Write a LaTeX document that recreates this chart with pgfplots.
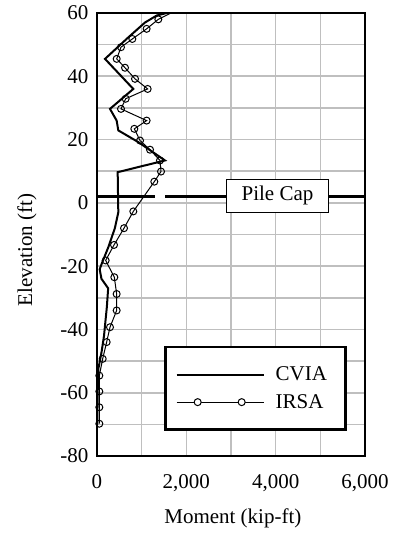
\documentclass[border=0pt]{standalone}
\usepackage{fontspec}
\setmainfont{Liberation Serif}
\usepackage{pgfplots}
\pgfplotsset{compat=1.18}

\newcommand{\fs}{\fontsize{21}{25}\selectfont}

\begin{document}
\begin{tikzpicture}
\useasboundingbox (-97pt,-77pt) rectangle (298pt,456pt);
\begin{axis}[
    scale only axis,
    width=268pt, height=443pt,
    xmin=0, xmax=6000, ymin=-80, ymax=60,
    xtick={0,2000,4000,6000}, minor xtick={1000,3000,5000},
    ytick={-80,-60,...,60}, minor ytick={-70,-50,...,50},
    grid=both,
    major grid style={draw=black!25, line width=1.6pt},
    minor grid style={draw=black!25, line width=1.6pt},
    major tick length=0pt, minor tick length=0pt,
    axis line style={line width=2.8pt},
    scaled x ticks=false,
    /pgf/number format/1000 sep={,},
    /pgf/number format/assume math mode=true,
    tick label style={font=\fs},
    xticklabel style={yshift=-15pt},
    yticklabel style={xshift=-5pt},
    label style={font=\fs},
    xlabel={Moment (kip-ft)},
    ylabel={Elevation (ft)},
    xlabel style={at={(axis description cs:0.507,-0.14)}, anchor=center},
    ylabel style={at={(axis description cs:-0.261,0.465)}, anchor=center},
    legend cell align=left,
    legend style={at={(0.933,0.056)}, anchor=south east, draw=black,
        line width=2.7pt, inner xsep=10pt, inner ysep=17pt, font=\fs,
        column sep=11pt, row sep=6pt,
        nodes={inner xsep=0pt, inner ysep=3pt}},
]

% pile cap level
\addplot[black, line width=2.2pt, forget plot] coordinates {(0,2) (1300,2)};
\addplot[black, line width=2.2pt, forget plot] coordinates {(1523,2) (6000,2)};

\addplot[black, line width=2pt,
    legend image code/.code={\draw[line width=2pt] (0pt,0pt) -- (87pt,0pt);}]
coordinates {
(1560,60) (1336,59.2) (1075,57) (701,52.3) (179,45.5) (813,36) (291,29.7)
(440,26) (477,22.9) (925,19.2) (1522,13.4) (463,9.7) (477,-3) (400,-8)
(254,-14) (104,-19.3) (60,-21) (100,-24) (250,-27) (220,-33) (157,-42)
(104,-47) (30,-52.5) (15,-60) (7,-70)
};
\addlegendentry{\makebox[60pt][l]{CVIA}}

\addplot[black, line width=1pt, mark=o, mark size=3.5pt,
    mark options={line width=1pt},
    legend image code/.code={
        \draw[line width=1pt] (0pt,0pt) -- (87pt,0pt);
        \draw[line width=1pt, fill=white] (21pt,0pt) circle (3.5pt) (65pt,0pt) circle (3.5pt);}]
coordinates {
(1687,60.2) (1373,58) (1111,55) (791,51.8) (537,49.2) (441,45.5) (627,42.7)
(851,39.2) (1134,36) (642,32.9) (537,29.7) (1111,26) (836,23.4) (963,19.7)
(1187,16.8) (1410,13.4) (1433,9.9) (1283,6.7) (813,-2.7) (605,-8) (381,-13.3)
(194,-18.2) (388,-23.5) (440,-28.8) (440,-34) (291,-39.3) (216,-44) (127,-49.3)
(52,-54.6) (52,-59.6) (52,-64.6) (52,-69.8)
};
\addlegendentry{IRSA}

\node[fill=white, draw=black, line width=1pt, font=\fs, inner xsep=15pt, inner ysep=7pt]
    at (axis cs:4041,2.2) {Pile Cap};
\end{axis}
\end{tikzpicture}
\end{document}
